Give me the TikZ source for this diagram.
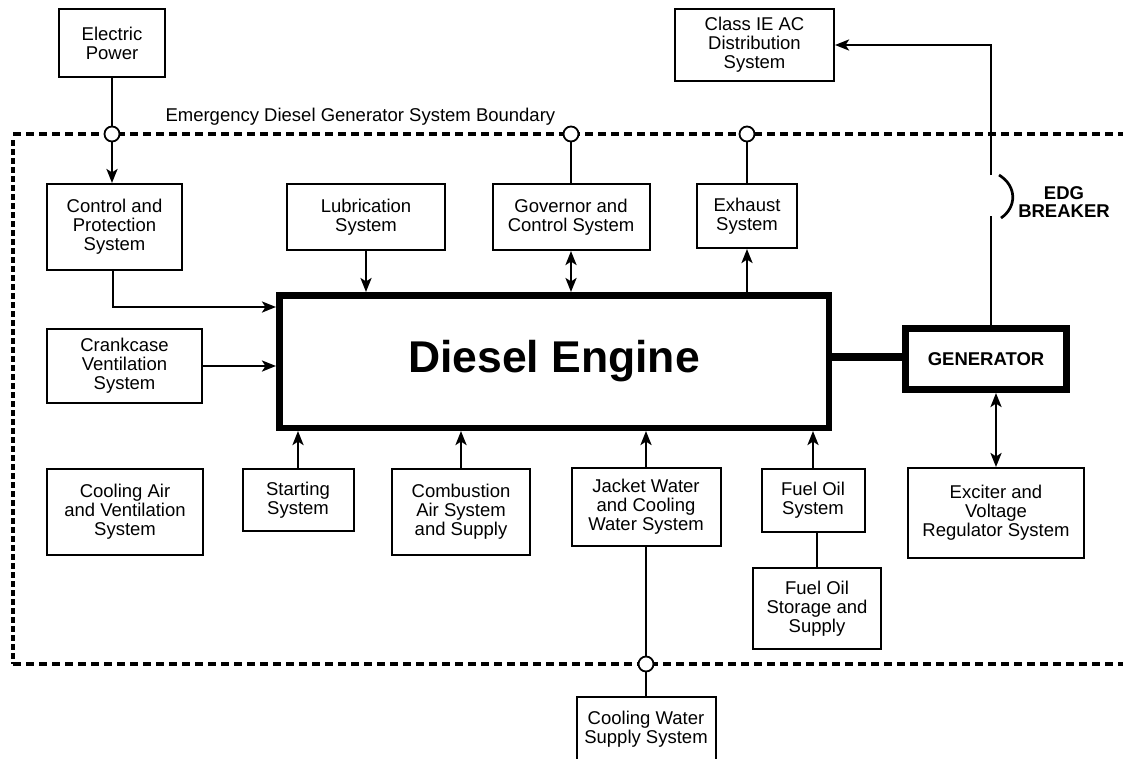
\documentclass[tikz,border=0pt]{standalone}
\usepackage{fontspec}
\setmainfont{Liberation Sans}
\usetikzlibrary{arrows.meta}
\tikzset{
  box/.style={draw, rectangle, line width=2pt, inner sep=0pt, align=center,
    font=\fontsize{18.5}{19.2}\selectfont},
  heavy/.style={draw, rectangle, inner sep=0pt, align=center},
  conn/.style={line width=2.7pt},
  tip/.tip={Stealth[length=14pt,width=11pt,inset=3.5pt]},
  arr/.style={conn, -tip},
  darr/.style={conn, tip-tip},
  port/.style={circle, draw, fill=white, line width=1.8pt, minimum size=15pt, inner sep=0pt},
  boundh/.style={line width=3.6pt, dash pattern=on 8pt off 5pt},
  boundv/.style={line width=3.6pt, dash pattern=on 6pt off 3pt},
}
\begin{document}
\begin{tikzpicture}[x=1pt,y=-1pt]
\clip (0,0) rectangle (1123,758);
% boundary
\draw[boundh] (13,134) -- (1130,134);
\draw[boundh] (13,664) -- (1130,664);
\draw[boundv] (13,140) -- (13,664);
\node[anchor=base west, font=\fontsize{18.5}{19}\selectfont] (blabel) at (162,121) {Emergency Diesel Generator System Boundary};
% ports
\node[port] (p1) at (112,134) {};
\node[port] (p2) at (571,134) {};
\node[port] (p3) at (747,134) {};
\node[port] (p4) at (646,664) {};
% boxes
\node[box, minimum width=106pt, minimum height=68pt] (elec) at (112,43) {Electric\\Power};
\node[box, minimum width=159pt, minimum height=72pt] (classie) at (754.5,45) {Class IE AC\\Distribution\\System};
\node[box, minimum width=135pt, minimum height=86pt] (ctrl) at (114.5,227) {Control and\\Protection\\System};
\node[box, minimum width=158pt, minimum height=66pt] (lube) at (366,217) {Lubrication\\System};
\node[box, minimum width=157pt, minimum height=66pt] (gov) at (571,217) {Governor and\\Control System};
\node[box, minimum width=100pt, minimum height=64pt] (exh) at (747,216) {Exhaust\\System};
\node[box, minimum width=155pt, minimum height=74pt] (crank) at (124.5,366) {Crankcase\\Ventilation\\System};
\node[box, minimum width=156pt, minimum height=86pt] (coolair) at (125,512) {Cooling Air\\and Ventilation\\System};
\node[box, minimum width=111pt, minimum height=62pt] (start) at (298,500) {Starting\\System};
\node[box, minimum width=138pt, minimum height=86pt] (comb) at (461,512) {Combustion\\Air System\\and Supply};
\node[box, minimum width=149pt, minimum height=78pt] (jacket) at (646,507) {Jacket Water\\and Cooling\\Water System};
\node[box, minimum width=103pt, minimum height=63pt] (fuel) at (813,500.5) {Fuel Oil\\System};
\node[box, minimum width=128pt, minimum height=81pt] (storage) at (817,608.5) {Fuel Oil\\Storage and\\Supply};
\node[box, minimum width=139pt, minimum height=65pt] (cws) at (646,729.5) {Cooling Water\\Supply System};
\node[box, minimum width=176pt, minimum height=90pt] (exc) at (996,513) {Exciter and\\Voltage\\Regulator System};
\node[heavy, line width=6.5pt, minimum width=549.5pt, minimum height=132.5pt,
      font=\fontsize{44.5}{50}\selectfont\bfseries] (engine) at (554,361.5) {Diesel Engine};
\node[heavy, line width=7pt, minimum width=161pt, minimum height=61pt,
      font=\fontsize{18.5}{19}\selectfont\bfseries] (gen) at (986,359) {GENERATOR};
\node[align=center, font=\fontsize{18.5}{18}\selectfont\bfseries] (edg) at (1064,202) {EDG\\BREAKER};
% shaft
\draw[line width=7.5pt] (engine.east |- 0,357) -- (gen.west |- 0,357);
% connectors
\draw[conn] (elec.south) -- (p1.north);
\draw[arr] (p1.south) -- (p1.south |- ctrl.north);
\coordinate (cbend) at (113,307);
\draw[arr] (ctrl.south -| cbend) -- (cbend) -- (cbend -| engine.west);
\draw[arr] (crank.east) -- (crank.east -| engine.west);
\draw[arr] (lube.south) -- (lube.south |- engine.north);
\draw[darr] (gov.south) -- (gov.south |- engine.north);
\draw[conn] (gov.north) -- (p2.south);
\draw[conn] (exh.north) -- (p3.south);
\draw[arr] (exh.south |- engine.north) -- (exh.south);
\draw[arr] (start.north) -- (start.north |- engine.south);
\draw[arr] (comb.north) -- (comb.north |- engine.south);
\draw[arr] (jacket.north) -- (jacket.north |- engine.south);
\draw[arr] (fuel.north) -- (fuel.north |- engine.south);
\draw[conn] (storage.north) -- (storage.north |- fuel.south);
\draw[conn] (jacket.south) -- (p4.north);
\draw[conn] (p4.south) -- (cws.north);
\draw[darr] (exc.north) -- (exc.north |- gen.south);
% breaker
\coordinate (brkbot) at (991,216);
\coordinate (brktop) at (991,175);
\draw[conn] (gen.north -| brkbot) -- (brkbot);
\draw[arr] (brktop) -- (brktop |- classie.east) -- (classie.east);
\draw[conn] (999,175) .. controls (1017,186) and (1017,207) .. (1001,218);
\end{tikzpicture}
\end{document}
